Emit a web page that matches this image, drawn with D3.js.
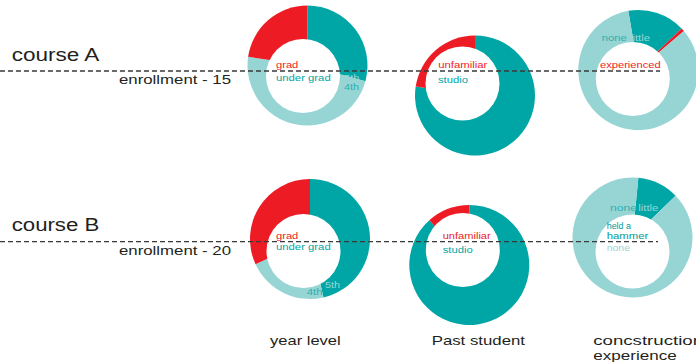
<!DOCTYPE html>
<html>
<head>
<meta charset="utf-8">
<script src="https://cdn.jsdelivr.net/npm/d3@7"></script>
<style>
  html, body { margin: 0; padding: 0; background: #fff; }
  svg { display: block; font-family: "Liberation Sans", Arial, Helvetica, sans-serif; }
</style>
</head>
<body>
<svg id="chart" width="696" height="362"></svg>
<script>
// ---------------- data ----------------
const rowLabels = ["course A", "course B"];
const enrollmentLabels = ["enrollment - 15", "enrollment - 20"];
const columnTitles = [["year level"], ["Past student"], ["concstruction", "experience"]];

const yearLevelCategories = ["5th", "4th", "grad"];
const yearLevelA = [29.2, 48.1, 22.7];
const yearLevelB = [46.4, 21.7, 31.9];

const pastStudentCategories = ["studio", "unfamiliar"];
const pastStudentA = [77.4, 22.6];
const pastStudentB = [88.4, 11.6];

const constructionCategories = ["little", "experienced", "none"];
const constructionA = [15.5, 0.9, 83.6];
const constructionB = [11.2, 0, 88.8];

// ---------------- styles ----------------
const RED = "#ed1c24", DARK = "#00a6a6", LIGHT = "#97d5d5", MID = "#2eafaf", INK = "#231f20";
const colorOf = {
  "5th": DARK, "4th": LIGHT, "grad": RED,
  "studio": DARK, "unfamiliar": RED,
  "little": DARK, "experienced": RED, "none": LIGHT
};

// ---------------- layout ----------------
const R = 60, HOLE = 37;
const charts = [
  { cats: yearLevelCategories, vals: yearLevelA, cx: 307.5, cy: 65.5, hx: -4.5, hy: 10.5, rot: 0 },
  { cats: pastStudentCategories, vals: pastStudentA, cx: 475, cy: 95.5, hx: -12.5, hy: -12, rot: 0 },
  { cats: constructionCategories, vals: constructionA, cx: 638.3, cy: 70, hx: -5.5, hy: 9, rot: -9.6 },
  { cats: yearLevelCategories, vals: yearLevelB, cx: 310, cy: 239, hx: -6.5, hy: 12, rot: 0 },
  { cats: pastStudentCategories, vals: pastStudentB, cx: 469.3, cy: 265, hx: -6.5, hy: -15, rot: 0 },
  { cats: constructionCategories, vals: constructionB, cx: 632.5, cy: 237.5, hx: 0, hy: 14, rot: 5.6 }
];

const svg = d3.select("#chart");
const arc = d3.arc().innerRadius(0).outerRadius(R);

charts.forEach(c => {
  const rot = c.rot * Math.PI / 180;
  const pie = d3.pie().sort(null).value(d => d.v).startAngle(rot).endAngle(rot + 2 * Math.PI);
  const data = c.cats.map((k, i) => ({ k, v: c.vals[i] }));
  const g = svg.append("g").attr("transform", `translate(${c.cx},${c.cy})`);
  g.selectAll("path").data(pie(data)).join("path")
    .attr("d", arc)
    .attr("fill", d => colorOf[d.data.k]);
  g.append("circle").attr("cx", c.hx).attr("cy", c.hy).attr("r", HOLE).attr("fill", "#fff");
});

// dashed row lines
const rowLineY = [71, 241.7];
const rowLineEnd = [660, 658];
rowLineY.forEach((y, i) => {
  svg.append("line")
    .attr("x1", 0).attr("x2", rowLineEnd[i])
    .attr("y1", y).attr("y2", y)
    .attr("stroke", "#3a3a3a").attr("stroke-width", 1.3)
    .attr("stroke-dasharray", "5,3");
});

function label(text, x, y, w, size, fill) {
  svg.append("text")
    .attr("x", x).attr("y", y)
    .attr("font-size", size)
    .attr("fill", fill)
    .attr("textLength", w).attr("lengthAdjust", "spacingAndGlyphs")
    .text(text);
}

// row labels
const rowY = [61, 230.7];
rowLabels.forEach((t, i) => label(t, 11.7, rowY[i], 87.6, 17.5, INK));
const enrollY = [84, 255];
enrollmentLabels.forEach((t, i) => label(t, 119, enrollY[i], 112, 13, INK));

// column titles
const colX = [270, 431.7, 593.3];
const colW = [[70.7], [93.3], [109.7, 83.4]];
columnTitles.forEach((lines, i) => {
  lines.forEach((t, j) => label(t, colX[i], 344.8 + j * 15.2, colW[i][j], 13.5, INK));
});

// slice labels
const S = 9.5;
// course A - year level
label("grad", 276, 68.3, 22.3, S, RED);
label("under grad", 276, 80.7, 54.7, S, DARK);
label(yearLevelCategories[0], 344.3, 80.7, 15, S, LIGHT);
label(yearLevelCategories[1], 344, 90.3, 15, S, MID);
// course B - year level
label("grad", 276, 239, 22.3, S, RED);
label("under grad", 276, 250, 54.7, S, DARK);
label(yearLevelCategories[0], 325, 288.3, 15, S, LIGHT);
label(yearLevelCategories[1], 306.7, 295, 16, S, MID);
// past student
label(pastStudentCategories[1], 438.3, 67.7, 49, S, RED);
label(pastStudentCategories[0], 438, 82.7, 30, S, DARK);
label(pastStudentCategories[1], 442.7, 239.3, 48, S, RED);
label(pastStudentCategories[0], 442.7, 253.3, 30, S, DARK);
// construction A
label("none", 601.7, 40.7, 25, S, MID);
label("little", 630, 40.7, 20, S, LIGHT);
label("experienced", 600, 68.3, 60.7, S, RED);
// construction B
label("none", 610, 210.7, 27, S, MID);
label("little", 638.3, 210.7, 20, S, LIGHT);
label("held a", 606.7, 229, 24.3, 8.5, "#009a9a");
label("hammer", 606.7, 238.8, 41.6, 8.5, "#009a9a");
label("none", 606.7, 250.5, 23.3, S, LIGHT);
</script>
</body>
</html>
